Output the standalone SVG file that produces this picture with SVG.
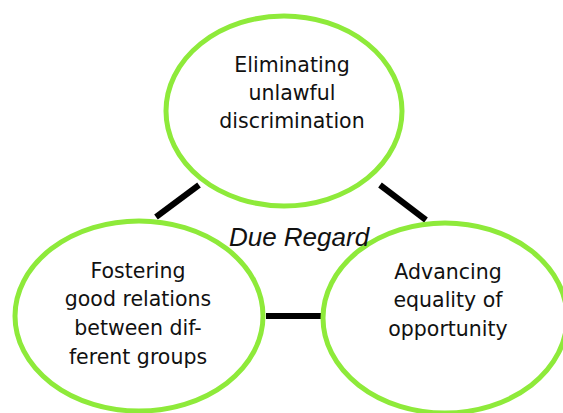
<svg xmlns="http://www.w3.org/2000/svg" width="563" height="413" viewBox="0 0 563 413">
<style>
.node{fill:#fff;stroke:#8eea3a;stroke-width:5}
.lbl{font-family:"DejaVu Sans","Liberation Sans",sans-serif;font-size:20.5px;fill:#111;text-anchor:middle}
.conn{stroke:#000;stroke-width:6;fill:none}
.title{font-family:"Liberation Sans",Arial,sans-serif;font-style:italic;font-size:26px;fill:#111;text-anchor:middle}
</style>
<rect width="563" height="413" fill="#fff"/>
<g id="connectors">
<line class="conn" x1="156" y1="217" x2="199" y2="185"/>
<line class="conn" x1="380" y1="185" x2="426" y2="220"/>
<line class="conn" x1="266" y1="316" x2="324" y2="316"/>
</g>
<g id="node-eliminating">
<ellipse class="node" cx="284" cy="111" rx="118" ry="95"/>
<text class="lbl" x="292" y="72">Eliminating</text>
<text class="lbl" x="292" y="100">unlawful</text>
<text class="lbl" x="292" y="128">discrimination</text>
</g>
<g id="node-fostering">
<ellipse class="node" cx="139" cy="316" rx="124" ry="95"/>
<text class="lbl" x="138" y="278">Fostering</text>
<text class="lbl" x="138" y="306">good relations</text>
<text class="lbl" x="138" y="335">between dif-</text>
<text class="lbl" x="138" y="364">ferent groups</text>
</g>
<g id="node-advancing">
<ellipse class="node" cx="445" cy="318" rx="122" ry="95"/>
<text class="lbl" x="448" y="279">Advancing</text>
<text class="lbl" x="448" y="307">equality of</text>
<text class="lbl" x="448" y="336">opportunity</text>
</g>
<text class="title" x="299" y="246">Due Regard</text>
</svg>
